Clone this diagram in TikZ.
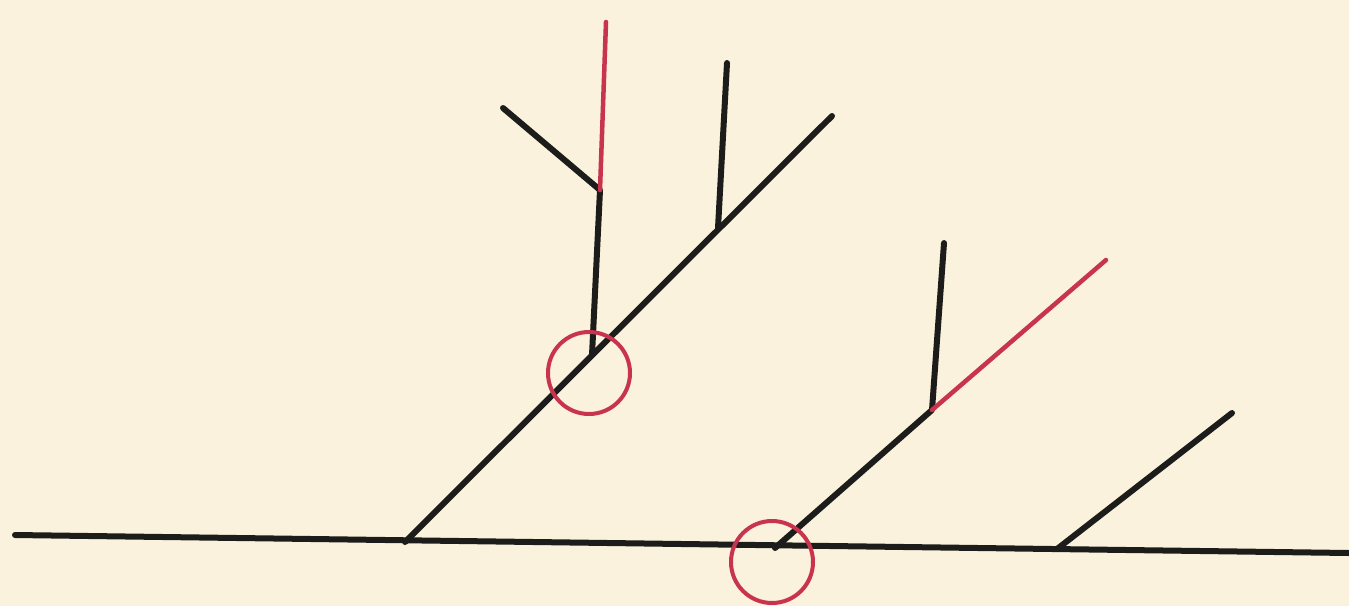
\documentclass[tikz,border=0pt]{standalone}
\definecolor{paper}{HTML}{FAF2DD}
\definecolor{ink}{HTML}{1C1C1A}
\definecolor{redink}{HTML}{C8334E}
\tikzset{
  blk/.style={draw=ink, line width=6pt, line cap=round, line join=round},
  red/.style={draw=redink, line width=4.5pt, line cap=round},
  ring/.style={circle, draw=redink, line width=4pt, minimum size=82pt, inner sep=0pt}
}
\begin{document}
\begin{tikzpicture}[x=1pt,y=-1pt]
\fill[paper] (0,0) rectangle (1349,606);
\useasboundingbox (0,0) rectangle (1349,606);
% baseline
\coordinate (L) at (15,535);
\coordinate (R) at (1349,553);
\coordinate (A0) at (405,542);
\coordinate (B0) at (775,548);
\coordinate (C0) at (1057,549);
% branch A
\coordinate (Atop) at (832,116);
\coordinate (Aj) at (592,355);
\coordinate (Vj) at (600,190);
\coordinate (Vtop) at (606,22);
\coordinate (Vleft) at (503,108);
\coordinate (Wj) at (718,228);
\coordinate (Wtop) at (727,63);
% branch B
\coordinate (Bj) at (932,410);
\coordinate (Btop) at (1106,260);
\coordinate (Bvtop) at (944,243);
% branch C
\coordinate (Ctop) at (1232,413);
\draw[blk] (L) -- (R);
\draw[blk] (A0) -- (Atop);
\draw[blk] (Aj) -- (Vj) -- (Vleft);
\draw[red] (Vj) -- (Vtop);
\draw[blk] (Wj) -- (Wtop);
\draw[blk] (B0) -- (Bj) -- (Bvtop);
\draw[red] (Bj) -- (Btop);
\draw[blk] (C0) -- (Ctop);
\node[ring] (c1) at (589,373) {};
\node[ring] (c2) at (772,562) {};
\end{tikzpicture}
\end{document}
